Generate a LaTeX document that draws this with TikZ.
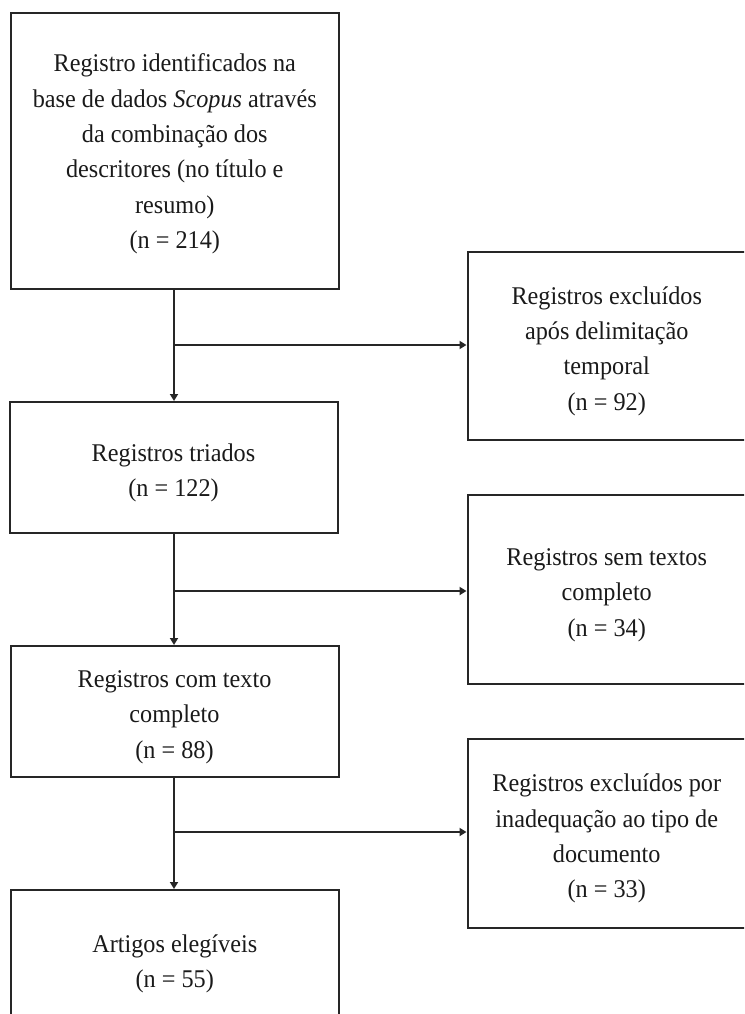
\documentclass[tikz,border=0pt]{standalone}
\usepackage{fontspec}
\setmainfont{Liberation Serif}[FakeStretch=0.95]
\usetikzlibrary{arrows.meta}
\definecolor{linec}{HTML}{262626}
\definecolor{textc}{HTML}{1A1A1A}
\newcommand{\topstrut}{\rule{0pt}{28pt}}
\tikzset{
  flowbox/.style={draw=linec, line width=2pt, rectangle, align=center, inner sep=4pt,
    text=textc, font=\fontsize{25.5}{35.4}\selectfont},
  arr/.style={draw=linec, line width=2pt, -{Triangle[length=7pt,width=8pt]}},
}
\begin{document}
\begin{tikzpicture}[x=1pt,y=-1pt]
\useasboundingbox (0,0) rectangle (744,1014);
\clip (0,0) rectangle (744,1014);
\fill[white] (0,0) rectangle (744,1014);
% left column
\node[flowbox, minimum width=328.5pt, minimum height=276pt] (b1) at (174.75,151)
  {\rule{0pt}{24pt}Registro identificados na\\ base de dados \textit{Scopus} através\\ da combinação dos\\ descritores (no título e\\ resumo)\\ (n = 214)};
\node[flowbox, minimum width=328pt, minimum height=131pt] (b2) at (173.5,467.5)
  {\topstrut Registros triados\\ (n = 122)};
\node[flowbox, minimum width=328pt, minimum height=131pt] (b3) at (174.5,711.5)
  {\topstrut Registros com texto\\ completo\\ (n = 88)};
\node[flowbox, minimum width=328.5pt, minimum height=138pt] (b4) at (174.75,959)
  {\topstrut Artigos elegíveis\\ (n = 55)};
% right column
\node[flowbox, minimum width=278.5pt, minimum height=188pt] (r1) at (606.75,346)
  {\topstrut Registros excluídos\\ após delimitação\\ temporal\\ (n = 92)};
\node[flowbox, minimum width=278.5pt, minimum height=189pt] (r2) at (606.75,589.5)
  {\topstrut Registros sem textos\\ completo\\ (n = 34)};
\node[flowbox, minimum width=278.5pt, minimum height=189pt] (r3) at (606.75,833.5)
  {\topstrut Registros excluídos por\\ inadequação ao tipo de\\ documento\\ (n = 33)};
% junctions
\coordinate (j1) at (174,345);
\coordinate (j2) at (174,591);
\coordinate (j3) at (174,832);
% connectors
\draw[arr] (b1.south -| j1) -- (b2.north -| j1);
\draw[arr] (b2.south -| j2) -- (b3.north -| j2);
\draw[arr] (b3.south -| j3) -- (b4.north -| j3);
\draw[arr] (j1) -- (j1 -| r1.west);
\draw[arr] (j2) -- (j2 -| r2.west);
\draw[arr] (j3) -- (j3 -| r3.west);
\end{tikzpicture}
\end{document}
